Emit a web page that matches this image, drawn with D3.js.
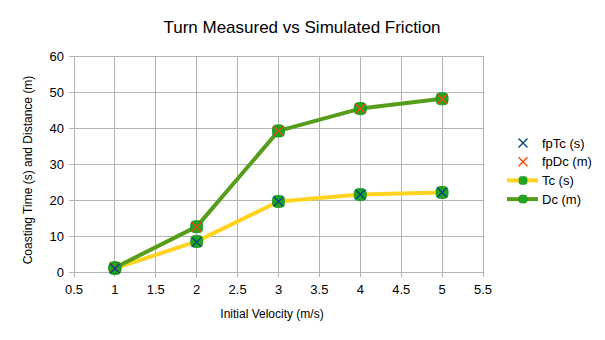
<!DOCTYPE html>
<html><head><meta charset="utf-8">
<script src="https://cdn.jsdelivr.net/npm/d3@7"></script>
<style>body{margin:0;background:#fff}svg{display:block;font-family:"Liberation Sans",Arial,sans-serif}</style>
</head><body><svg id="c" width="605" height="340"></svg>
<script>
const velocity = [1, 2, 3, 4, 5];
const fpTc = [1.0, 8.3, 19.6, 21.5, 22.1];
const fpDc = [1.1, 12.5, 39.2, 45.4, 48.0];
const Tc = [1.0, 8.5, 19.6, 21.5, 22.1];
const Dc = [1.2, 12.6, 39.2, 45.4, 48.1];
const xTicks = [0.5, 1, 1.5, 2, 2.5, 3, 3.5, 4, 4.5, 5, 5.5];
const yTicks = [0, 10, 20, 30, 40, 50, 60];

const svg = d3.select("#c");
const x = d3.scaleLinear().domain([0.5, 5.5]).range([74, 483]);
const y = d3.scaleLinear().domain([0, 60]).range([272, 56]);
const grid = "#b3b3b3";

// grid
svg.append("g").selectAll("line").data(yTicks).join("line")
  .attr("x1", 69).attr("x2", 483).attr("y1", d => y(d)).attr("y2", d => y(d))
  .attr("stroke", grid).attr("shape-rendering", "crispEdges");
svg.append("g").selectAll("line").data(xTicks).join("line")
  .attr("x1", d => x(d)).attr("x2", d => x(d)).attr("y1", 56).attr("y2", 277)
  .attr("stroke", grid).attr("shape-rendering", "crispEdges");

// tick labels
svg.append("g").selectAll("text").data(yTicks).join("text")
  .attr("x", 64).attr("y", d => y(d) + 4.5).attr("text-anchor", "end")
  .attr("font-size", 13).attr("fill", "#000").text(d => d);
svg.append("g").selectAll("text").data(xTicks).join("text")
  .attr("x", d => x(d)).attr("y", 294).attr("text-anchor", "middle")
  .attr("font-size", 13).attr("fill", "#000").text(d => d);

// titles
svg.append("text").attr("x", 302).attr("y", 33).attr("text-anchor", "middle")
  .attr("font-size", 17).attr("fill", "#000").text("Turn Measured vs Simulated Friction");
svg.append("text").attr("x", 272).attr("y", 318).attr("text-anchor", "middle")
  .attr("font-size", 12).attr("fill", "#000").text("Initial Velocity (m/s)");
svg.append("text").attr("transform", "translate(32,170) rotate(-90)").attr("text-anchor", "middle")
  .attr("font-size", 12).attr("fill", "#000").text("Coasting Time (s) and Distance (m)");

const line = d3.line().x(d => x(d[0])).y(d => y(d[1]));
const tcCol = "#ffd320", dcCol = "#579d1c", mk = "#1fa51f";
const series = [
  {vals: Tc, col: tcCol},
  {vals: Dc, col: dcCol}
];
series.forEach(s => {
  svg.append("path").datum(velocity.map((v, i) => [v, s.vals[i]]))
    .attr("d", line).attr("fill", "none").attr("stroke", s.col).attr("stroke-width", 4)
    .attr("stroke-linejoin", "round");
});
function marker(g, cx, cy) {
  g.append("rect").attr("x", cx - 6).attr("y", cy - 6).attr("width", 12).attr("height", 12)
    .attr("rx", 4).attr("fill", mk).attr("stroke", "#198f19").attr("stroke-width", 0.8);
}
const mg = svg.append("g");
series.forEach(s => velocity.forEach((v, i) => marker(mg, x(v), y(s.vals[i]))));
function cross(g, cx, cy, col) {
  const r = 4.5;
  g.append("path").attr("d", `M${cx - r},${cy - r}L${cx + r},${cy + r}M${cx - r},${cy + r}L${cx + r},${cy - r}`)
    .attr("stroke", col).attr("stroke-width", 1.4).attr("fill", "none");
}
const cg = svg.append("g");
velocity.forEach((v, i) => cross(cg, x(v), y(fpDc[i]), "#ff420e"));
velocity.forEach((v, i) => cross(cg, x(v), y(fpTc[i]), "#004586"));

// legend
const leg = svg.append("g");
const legItems = [
  {label: "fpTc (s)", type: "x", col: "#004586"},
  {label: "fpDc (m)", type: "x", col: "#ff420e"},
  {label: "Tc (s)", type: "l", col: tcCol},
  {label: "Dc (m)", type: "l", col: dcCol}
];
legItems.forEach((d, i) => {
  const cy = 143 + i * 18.7;
  if (d.type === "x") cross(leg, 523, cy, d.col);
  else {
    leg.append("line").attr("x1", 507).attr("x2", 538).attr("y1", cy).attr("y2", cy)
      .attr("stroke", d.col).attr("stroke-width", 4);
    leg.append("rect").attr("x", 519).attr("y", cy - 4).attr("width", 8).attr("height", 8)
      .attr("rx", 2.5).attr("fill", mk).attr("stroke", "#198f19").attr("stroke-width", 0.6);
  }
  leg.append("text").attr("x", 542).attr("y", cy + 4.5).attr("font-size", 13)
    .attr("fill", "#000").text(d.label);
});
</script></body></html>
